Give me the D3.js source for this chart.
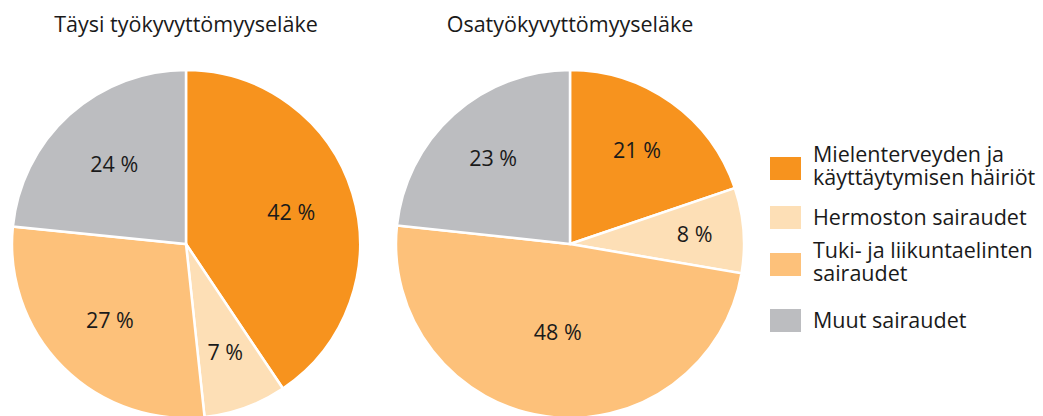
<!DOCTYPE html>
<head>
<meta charset="utf-8">
<style>
  body { margin: 0; background: #fff; }
  text { font-family: "Open Sans", sans-serif; fill: #1a1a1a; }
</style>
</head>
<body>
  <svg width="1043" height="416"></svg>

  <script src="https://d3js.org/d3.v7.min.js"></script>
  <script>
  // categories in drawing order (clockwise from top)
  const categories = [
    ['Mielenterveyden ja', 'käyttäytymisen häiriöt'],
    ['Hermoston sairaudet'],
    ['Tuki- ja liikuntaelinten', 'sairaudet'],
    ['Muut sairaudet']
  ];
  const titles = ['Täysi työkyvyttömyyseläke', 'Osatyökyvyttömyyseläke'];
  // slice sizes as drawn, and the labels printed on them
  const fullShares = [40.6, 7.7, 28.3, 23.4];
  const partShares = [19.8, 7.9, 49.0, 23.3];
  const fullLabels = ['42 %', '7 %', '27 %', '24 %'];
  const partLabels = ['21 %', '8 %', '48 %', '23 %'];

  const colors = ['#f7931e', '#fddfb6', '#fdc17a', '#bcbdc0'];
  const radius = 174;

  const svg = d3.select('svg');
  const pie = d3.pie().sort(null).value(d => d);
  const arc = d3.arc().innerRadius(0).outerRadius(radius);

  const drawPie = (shares, labels, title, cx, labelR) => {
    const g = svg.append('g').attr('transform', `translate(${cx},244)`);
    const arcs = pie(shares);
    g.selectAll('path')
      .data(arcs)
      .enter()
      .append('path')
      .attr('d', arc)
      .attr('fill', (d, i) => colors[i])
      .attr('stroke', '#fff')
      .attr('stroke-width', 2.5);
    g.selectAll('text.lbl')
      .data(arcs)
      .enter()
      .append('text')
      .attr('class', 'lbl')
      .attr('transform', (d, i) => {
        const c = d3.arc().innerRadius(labelR[i]).outerRadius(labelR[i]).centroid(d);
        return `translate(${c})`;
      })
      .attr('text-anchor', 'middle')
      .attr('dy', '0.35em')
      .style('font-size', '21.5px')
      .text((d, i) => labels[i]);
    svg.append('text')
      .attr('x', cx)
      .attr('y', 32)
      .attr('text-anchor', 'middle')
      .style('font-size', '21.5px')
      .text(title);
  };

  drawPie(fullShares, fullLabels, titles[0], 186, [110, 115, 108, 107]);
  drawPie(partShares, partLabels, titles[1], 570, [115, 125, 89, 115]);

  // legend
  const legendY = [157, 206, 253, 309];
  const legend = svg.append('g');
  categories.forEach((lines, i) => {
    legend.append('rect')
      .attr('x', 770)
      .attr('y', legendY[i])
      .attr('width', 31)
      .attr('height', 23)
      .attr('fill', colors[i]);
    const t = legend.append('text')
      .attr('x', 813)
      .attr('y', lines.length > 1 ? legendY[i] + 5 : legendY[i] + 19)
      .style('font-size', '21.5px');
    lines.forEach((l, j) => {
      t.append('tspan')
        .attr('x', 813)
        .attr('dy', j === 0 ? 0 : 23)
        .text(l);
    });
  });
  </script>
</body>
</html>
